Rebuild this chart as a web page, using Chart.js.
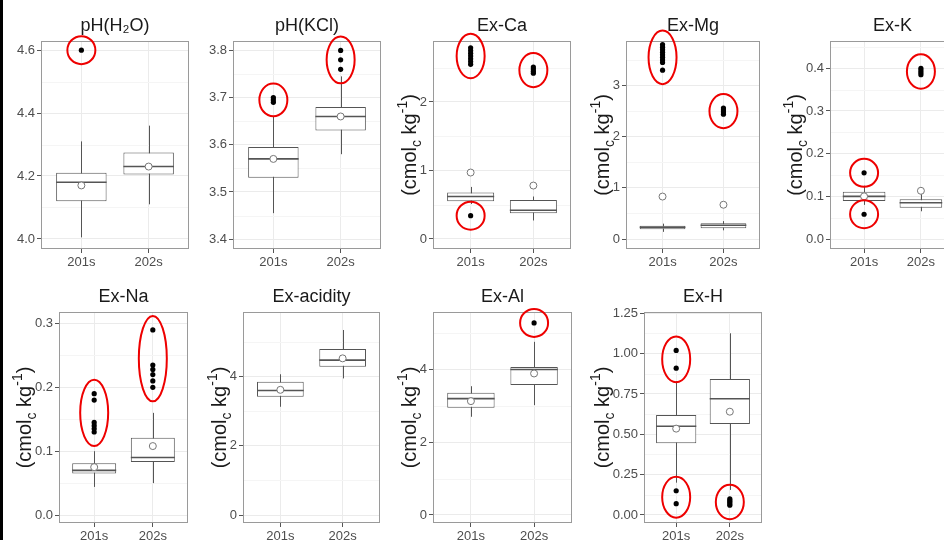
<!DOCTYPE html>
<html>
<head>
<meta charset="UTF-8">
<title>Soil chemistry by decade</title>
<script src="https://cdn.jsdelivr.net/npm/chart.js@4.4.1/dist/chart.umd.min.js"></script>
<style>
  body { margin: 0; width: 944px; height: 540px; overflow: hidden; background: #fff; position: relative; }
  .edge { position: absolute; left: 0; top: 0; width: 3px; height: 540px; background: #000; }
  canvas { position: absolute; }
</style>
</head>
<body>
<div class="edge"></div>
<script>
var groups = ['201s', '202s'];

// boxes: [lower whisker, q1, median, q3, upper whisker] for 201s, 202s
// outliers: per decade, a list of point groups (each group gets one red ring)
var phH2OBox = [[4.005, 4.12, 4.18, 4.21, 4.31], [4.11, 4.205, 4.23, 4.275, 4.36]];
var phH2OMean = [4.17, 4.23];
var phH2OOut = [[[4.6]], []];
var phH2OTicks = [4.0, 4.2, 4.4, 4.6];
var phH2OLabels = ['4.0', '4.2', '4.4', '4.6'];

var phKClBox = [[3.455, 3.53, 3.57, 3.595, 3.66], [3.58, 3.63, 3.66, 3.68, 3.745]];
var phKClMean = [3.57, 3.66];
var phKClOut = [[[3.69, 3.695, 3.70]], [[3.76, 3.78, 3.80]]];
var phKClTicks = [3.4, 3.5, 3.6, 3.7, 3.8];
var phKClLabels = ['3.4', '3.5', '3.6', '3.7', '3.8'];

var caBox = [[0.51, 0.55, 0.62, 0.68, 0.76], [0.27, 0.375, 0.42, 0.57, 0.62]];
var caMean = [0.97, 0.78];
var caOut = [[[2.55, 2.59, 2.63, 2.67, 2.71, 2.75, 2.79], [0.34]], [[2.42, 2.45, 2.48, 2.51]]];
var caTicks = [0, 1, 2];
var caLabels = ['0', '1', '2'];

var mgBox = [[0.14, 0.19, 0.23, 0.26, 0.3], [0.17, 0.21, 0.27, 0.31, 0.35]];
var mgMean = [0.83, 0.67];
var mgOut = [[[3.3, 3.45, 3.5, 3.55, 3.6, 3.65, 3.7, 3.75, 3.8]], [[2.44, 2.48, 2.52, 2.56]]];
var mgTicks = [0, 1, 2, 3];
var mgLabels = ['0', '1', '2', '3'];

var kBox = [[0.08, 0.089, 0.1, 0.111, 0.125], [0.065, 0.073, 0.085, 0.093, 0.105]];
var kMean = [0.1, 0.113];
var kOut = [[[0.155], [0.058]], [[0.385, 0.39, 0.395, 0.4]]];
var kTicks = [0, 0.1, 0.2, 0.3, 0.4];
var kLabels = ['0.0', '0.1', '0.2', '0.3', '0.4'];

var naBox = [[0.044, 0.065, 0.07, 0.081, 0.1], [0.05, 0.083, 0.09, 0.121, 0.16]];
var naMean = [0.075, 0.108];
var naOut = [[[0.13, 0.135, 0.14, 0.145, 0.18, 0.19]], [[0.2, 0.21, 0.22, 0.228, 0.235, 0.29]]];
var naTicks = [0, 0.1, 0.2, 0.3];
var naLabels = ['0.0', '0.1', '0.2', '0.3'];

var acidBox = [[3.13, 3.42, 3.6, 3.85, 4.07], [3.95, 4.29, 4.48, 4.8, 5.35]];
var acidMean = [3.62, 4.53];
var acidOut = [[], []];
var acidTicks = [0, 2, 4];
var acidLabels = ['0', '2', '4'];

var alBox = [[2.7, 2.95, 3.2, 3.36, 3.54], [3.02, 3.57, 4.0, 4.07, 4.76]];
var alMean = [3.13, 3.89];
var alOut = [[], [[5.28]]];
var alTicks = [0, 2, 4];
var alLabels = ['0', '2', '4'];

var hBox = [[0.2, 0.444, 0.55, 0.62, 0.83], [0.155, 0.564, 0.72, 0.843, 1.126]];
var hMean = [0.535, 0.64];
var hOut = [[[0.91, 1.02], [0.07, 0.15]], [[0.06, 0.07, 0.08, 0.09, 0.1]]];
var hTicks = [0, 0.25, 0.5, 0.75, 1, 1.25];
var hLabels = ['0.00', '0.25', '0.50', '0.75', '1.00', '1.25'];

var FONT = '"Liberation Sans", Arial, sans-serif';
var PAD_L = 70, PAD_T = 40, PAD_B = 30, PAD_R = 4;

// plot area edges on the page for each panel
var panels = [
  {title: 'pH(H₂O)', box: phH2OBox, mean: phH2OMean, out: phH2OOut, ticks: phH2OTicks, labels: phH2OLabels, range: [3.968, 4.629], unit: false, left: 41, right: 190, top: 41, bottom: 249},
  {title: 'pH(KCl)', box: phKClBox, mean: phKClMean, out: phKClOut, ticks: phKClTicks, labels: phKClLabels, range: [3.379, 3.82], unit: false, left: 233, right: 382, top: 41, bottom: 249},
  {title: 'Ex-Ca', box: caBox, mean: caMean, out: caOut, ticks: caTicks, labels: caLabels, range: [-0.146, 2.89], unit: true, left: 433, right: 572, top: 41, bottom: 249},
  {title: 'Ex-Mg', box: mgBox, mean: mgMean, out: mgOut, ticks: mgTicks, labels: mgLabels, range: [-0.195, 3.87], unit: true, left: 626, right: 761, top: 41, bottom: 249},
  {title: 'Ex-K', box: kBox, mean: kMean, out: kOut, ticks: kTicks, labels: kLabels, range: [-0.0234, 0.464], unit: true, left: 830, right: 956, top: 41, bottom: 249},
  {title: 'Ex-Na', box: naBox, mean: naMean, out: naOut, ticks: naTicks, labels: naLabels, range: [-0.0125, 0.318], unit: true, left: 59, right: 189, top: 312, bottom: 523},
  {title: 'Ex-acidity', box: acidBox, mean: acidMean, out: acidOut, ticks: acidTicks, labels: acidLabels, range: [-0.23, 5.87], unit: true, left: 243, right: 381, top: 312, bottom: 523},
  {title: 'Ex-Al', box: alBox, mean: alMean, out: alOut, ticks: alTicks, labels: alLabels, range: [-0.22, 5.58], unit: true, left: 433, right: 573, top: 312, bottom: 523},
  {title: 'Ex-H', box: hBox, mean: hMean, out: hOut, ticks: hTicks, labels: hLabels, range: [-0.05, 1.258], unit: true, left: 644, right: 763, top: 312, bottom: 523}
];

// (cmol_c kg^-1) drawn bottom-to-top with sub/superscript pieces
function drawUnitLabel(ctx, cx, cy) {
  var size = 20;
  var parts = [
    {t: '(cmol', s: 1, dy: 0},
    {t: 'c', s: 0.7, dy: 0.3},
    {t: ' kg', s: 1, dy: 0},
    {t: '-1', s: 0.7, dy: -0.38},
    {t: ')', s: 1, dy: 0}
  ];
  ctx.save();
  ctx.translate(cx, cy);
  ctx.rotate(-Math.PI / 2);
  ctx.fillStyle = '#1a1a1a';
  ctx.textBaseline = 'middle';
  ctx.textAlign = 'left';
  var total = 0;
  parts.forEach(function (p) {
    ctx.font = (size * p.s) + 'px ' + FONT;
    p.w = ctx.measureText(p.t).width;
    total += p.w;
  });
  var x = -total / 2;
  parts.forEach(function (p) {
    ctx.font = (size * p.s) + 'px ' + FONT;
    ctx.fillText(p.t, x, p.dy * size);
    x += p.w;
  });
  ctx.restore();
}

function boxParts(p) {
  return {
    id: 'boxParts',
    beforeDatasetsDraw: function (chart) {
      var ctx = chart.ctx, a = chart.chartArea;
      var xs = chart.scales.x, ys = chart.scales.y;
      ctx.save();
      // minor grid lines halfway between the major ones
      var step = p.ticks[1] - p.ticks[0];
      ctx.strokeStyle = '#f5f5f5';
      ctx.lineWidth = 1;
      for (var v = p.ticks[0] - step / 2; v <= p.range[1]; v += step) {
        if (v < p.range[0]) continue;
        var yy = Math.round(ys.getPixelForValue(v)) + 0.5;
        ctx.beginPath();
        ctx.moveTo(a.left, yy);
        ctx.lineTo(a.right, yy);
        ctx.stroke();
      }
      // panel border
      ctx.strokeStyle = '#9a9a9a';
      ctx.strokeRect(a.left + 0.5, a.top + 0.5, a.right - a.left - 1, a.bottom - a.top - 1);
      // whiskers
      ctx.strokeStyle = '#555';
      p.box.forEach(function (b, i) {
        var x = Math.round(xs.getPixelForValue(i + 1)) + 0.5;
        ctx.beginPath();
        ctx.moveTo(x, ys.getPixelForValue(b[0]));
        ctx.lineTo(x, ys.getPixelForValue(b[4]));
        ctx.stroke();
      });
      ctx.restore();
    },
    afterDatasetDraw: function (chart, args) {
      if (args.index !== 0) return;
      var ctx = chart.ctx, ys = chart.scales.y;
      ctx.save();
      ctx.strokeStyle = '#555';
      ctx.lineWidth = 1.6;
      args.meta.data.forEach(function (el, i) {
        var y = ys.getPixelForValue(p.box[i][2]);
        ctx.beginPath();
        ctx.moveTo(el.x - el.width / 2, y);
        ctx.lineTo(el.x + el.width / 2, y);
        ctx.stroke();
      });
      ctx.restore();
    },
    afterDraw: function (chart) {
      var ctx = chart.ctx, a = chart.chartArea;
      var xs = chart.scales.x, ys = chart.scales.y;
      if (p.unit) {
        ctx.save();
        ctx.font = '13px ' + FONT;
        var widest = 0;
        p.labels.forEach(function (l) { widest = Math.max(widest, ctx.measureText(l).width); });
        ctx.restore();
        drawUnitLabel(ctx, a.left - 6 - widest - 9, (a.top + a.bottom) / 2);
      }
      // red rings round the flagged outliers
      ctx.save();
      ctx.strokeStyle = '#ee0000';
      ctx.lineWidth = 2;
      p.out.forEach(function (gs, i) {
        var x = xs.getPixelForValue(i + 1);
        gs.forEach(function (g) {
          var px = g.map(function (v) { return ys.getPixelForValue(v); });
          var lo = Math.min.apply(null, px), hi = Math.max.apply(null, px);
          ctx.beginPath();
          ctx.ellipse(x, (lo + hi) / 2, 14, (hi - lo) / 2 + 14, 0, 0, Math.PI * 2);
          ctx.stroke();
        });
      });
      ctx.restore();
    }
  };
}

panels.forEach(function (p) {
  var w = p.right - p.left, h = p.bottom - p.top;
  var canvas = document.createElement('canvas');
  canvas.width = PAD_L + w + PAD_R;
  canvas.height = PAD_T + h + PAD_B;
  canvas.style.left = (p.left - PAD_L) + 'px';
  canvas.style.top = (p.top - PAD_T) + 'px';
  document.body.appendChild(canvas);

  var boxData = p.box.map(function (b, i) { return {x: i + 1, y: [b[1], b[3]]}; });
  var meanData = p.mean.map(function (m, i) { return {x: i + 1, y: m}; });
  var outData = [];
  p.out.forEach(function (gs, i) {
    gs.forEach(function (g) {
      g.forEach(function (v) { outData.push({x: i + 1, y: v}); });
    });
  });

  new Chart(canvas.getContext('2d'), {
    type: 'bar',
    data: {
      datasets: [
        {type: 'bar', data: boxData, backgroundColor: '#fff', borderColor: '#555', borderWidth: 1,
          borderSkipped: false, barPercentage: 0.75, categoryPercentage: 1, order: 3},
        {type: 'scatter', data: meanData, pointRadius: 3.5, pointBackgroundColor: '#fff',
          pointBorderColor: '#777', pointBorderWidth: 1, order: 2},
        {type: 'scatter', data: outData, pointRadius: 2.6, pointBackgroundColor: '#000',
          pointBorderColor: '#000', pointBorderWidth: 0, order: 1}
      ]
    },
    options: {
      responsive: false,
      animation: false,
      events: [],
      layout: {padding: {top: 14.4, right: PAD_R, left: 0, bottom: 0}},
      plugins: {
        legend: {display: false},
        tooltip: {enabled: false},
        title: {display: true, fullSize: false, text: p.title, color: '#1a1a1a',
          font: {family: FONT, size: 18, weight: 'normal', lineHeight: 1.2},
          padding: {top: 0, bottom: 4}}
      },
      scales: {
        x: {
          type: 'linear', min: 0.4, max: 2.6, offset: false,
          afterBuildTicks: function (s) { s.ticks = [{value: 1}, {value: 2}]; },
          afterFit: function (s) { s.height = PAD_B; },
          grid: {color: '#ebebeb', offset: false, tickLength: 4, tickColor: '#555'},
          border: {display: false},
          ticks: {color: '#4d4d4d', font: {family: FONT, size: 13}, padding: 2, maxRotation: 0,
            autoSkip: false, callback: function (v, i) { return groups[i]; }}
        },
        y: {
          type: 'linear', min: p.range[0], max: p.range[1], beginAtZero: false,
          afterBuildTicks: function (s) { s.ticks = p.ticks.map(function (v) { return {value: v}; }); },
          afterFit: function (s) { s.width = PAD_L; },
          grid: {color: '#ebebeb', tickLength: 4, tickColor: '#555'},
          border: {display: false},
          ticks: {color: '#4d4d4d', font: {family: FONT, size: 13}, padding: 2,
            autoSkip: false, callback: function (v, i) { return p.labels[i]; }}
        }
      }
    },
    plugins: [boxParts(p)]
  });
});
</script>
</body>
</html>
